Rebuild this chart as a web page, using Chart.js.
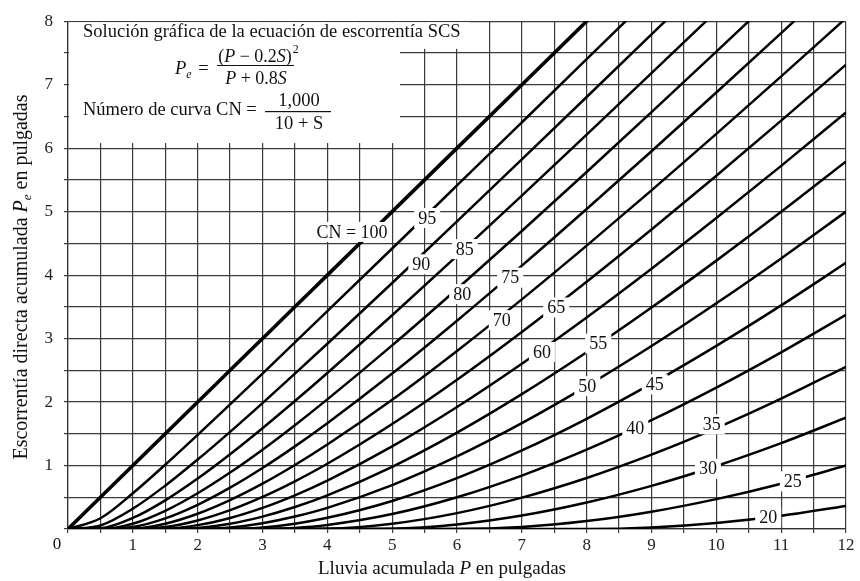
<!DOCTYPE html>
<html>
<head>
<meta charset="utf-8">
<script src="https://cdn.jsdelivr.net/npm/chart.js@4"></script>
<style>
  body { margin: 0; background: #fff; }
  #wrap { width: 860px; height: 581px; }
</style>
</head>
<body>
<div id="wrap"><canvas id="scsChart"></canvas></div>
<script>
// lluvia acumulada P (pulgadas)
const rainP = [0, 0.5, 1, 1.5, 2, 2.5, 3, 3.5, 4, 5, 6, 7, 8, 9, 10, 11, 12];

const cn100 = [0, 0.5, 1, 1.5, 2, 2.5, 3, 3.5, 4, 5, 6, 7, 8, 9, 10, 11, 12];
const cn95 = [0, 0.169, 0.563, 1.013, 1.483, 1.963, 2.449, 2.939, 3.431, 4.419, 5.412, 6.406, 7.401, 8.398, 9.395, 10.39, 11.39];
const cn90 = [0, 0.056, 0.32, 0.683, 1.094, 1.531, 1.984, 2.448, 2.919, 3.876, 4.846, 5.823, 6.806, 7.792, 8.78, 9.771, 10.763];
const cn85 = [0, 0.011, 0.174, 0.452, 0.795, 1.178, 1.588, 2.016, 2.458, 3.368, 4.303, 5.253, 6.213, 7.181, 8.155, 9.133, 10.114];
const cn80 = [0, 0, 0.083, 0.286, 0.563, 0.889, 1.25, 1.636, 2.042, 2.893, 3.781, 4.694, 5.625, 6.568, 7.521, 8.481, 9.446];
const cn75 = [0, 0, 0.03, 0.167, 0.381, 0.651, 0.961, 1.302, 1.667, 2.449, 3.282, 4.149, 5.042, 5.952, 6.877, 7.813, 8.758];
const cn70 = [0, 0, 0.005, 0.084, 0.241, 0.455, 0.714, 1.008, 1.33, 2.036, 2.805, 3.618, 4.464, 5.335, 6.225, 7.13, 8.048];
const cn65 = [0, 0, 0, 0.031, 0.135, 0.297, 0.506, 0.752, 1.028, 1.654, 2.351, 3.103, 3.894, 4.717, 5.565, 6.433, 7.316];
const cn60 = [0, 0, 0, 0.004, 0.061, 0.174, 0.333, 0.531, 0.762, 1.301, 1.922, 2.604, 3.333, 4.101, 4.899, 5.721, 6.564];
const cn55 = [0, 0, 0, 0, 0.015, 0.082, 0.195, 0.346, 0.53, 0.98, 1.518, 2.124, 2.784, 3.488, 4.228, 4.997, 5.791];
const cn50 = [0, 0, 0, 0, 0, 0.024, 0.091, 0.196, 0.333, 0.692, 1.143, 1.667, 2.25, 2.882, 3.556, 4.263, 5.0];
const cn45 = [0, 0, 0, 0, 0, 0, 0.024, 0.084, 0.176, 0.442, 0.801, 1.237, 1.736, 2.289, 2.886, 3.523, 4.193];
const cn40 = [0, 0, 0, 0, 0, 0, 0, 0.016, 0.063, 0.235, 0.5, 0.842, 1.25, 1.714, 2.227, 2.783, 3.375];
const cn35 = [0, 0, 0, 0, 0, 0, 0, 0, 0.004, 0.083, 0.25, 0.494, 0.804, 1.171, 1.589, 2.053, 2.556];
const cn30 = [0, 0, 0, 0, 0, 0, 0, 0, 0, 0.005, 0.072, 0.212, 0.417, 0.679, 0.992, 1.352, 1.754];
const cn25 = [0, 0, 0, 0, 0, 0, 0, 0, 0, 0, 0, 0.032, 0.125, 0.273, 0.471, 0.714, 1.0];
const cn20 = [0, 0, 0, 0, 0, 0, 0, 0, 0, 0, 0, 0, 0, 0.024, 0.095, 0.209, 0.364];

const curveNumbers = [100, 95, 90, 85, 80, 75, 70, 65, 60, 55, 50, 45, 40, 35, 30, 25, 20];
const curveValues = [cn100, cn95, cn90, cn85, cn80, cn75, cn70, cn65, cn60, cn55, cn50, cn45, cn40, cn35, cn30, cn25, cn20];

// etiquetas de las curvas (en unidades de los ejes)
const labelText = ['CN = 100', '95', '90', '85', '80', '75', '70', '65', '60', '55', '50', '45', '40', '35', '30', '25', '20'];
const labelP = [4.38, 5.54, 5.45, 6.12, 6.08, 6.82, 6.69, 7.53, 7.31, 8.18, 8.01, 9.05, 8.75, 9.93, 9.87, 11.18, 10.8];
const labelPe = [4.68, 4.9, 4.17, 4.41, 3.7, 3.96, 3.29, 3.49, 2.79, 2.92, 2.25, 2.28, 1.58, 1.65, 0.95, 0.75, 0.19];

const serif = '"Liberation Serif", "Times New Roman", serif';

const datasets = curveNumbers.map((cn, i) => ({
    label: 'CN ' + cn,
    data: rainP.map((p, j) => ({ x: p, y: curveValues[i][j] })),
    borderColor: '#000',
    borderWidth: cn === 100 ? 3.6 : 2.5,
    pointRadius: 0,
    cubicInterpolationMode: 'monotone',
    fill: false
}));

function drawRuns(ctx, parts, x, y) {
    let cx = x;
    parts.forEach(p => {
        ctx.font = p.f;
        ctx.fillText(p.t, cx, y + (p.dy || 0));
        cx += ctx.measureText(p.t).width;
    });
    return cx;
}
function runsWidth(ctx, parts) {
    let w = 0;
    parts.forEach(p => { ctx.font = p.f; w += ctx.measureText(p.t).width; });
    return w;
}

const fT = '18.5px ' + serif, iT = 'italic 18.5px ' + serif;
const fF = '18px ' + serif, iF = 'italic 18px ' + serif;
const fSub = 'italic 12px ' + serif, fSup = '12px ' + serif;

const extras = {
    id: 'extras',
    beforeDatasetsDraw(chart) {
        const { ctx, scales: { x, y } } = chart;
        ctx.save();
        ctx.fillStyle = '#fff';
        // recuadro del título
        ctx.fillRect(x.getPixelForValue(0) + 1, y.getPixelForValue(8) + 1,
            x.getPixelForValue(6.2) - x.getPixelForValue(0) - 1, y.getPixelForValue(7.58) - y.getPixelForValue(8));
        ctx.fillRect(x.getPixelForValue(0) + 1, y.getPixelForValue(7.6),
            x.getPixelForValue(5.12) - x.getPixelForValue(0) - 1, y.getPixelForValue(6.08) - y.getPixelForValue(7.6));
        ctx.restore();
    },
    afterDatasetsDraw(chart) {
        const { ctx, scales: { x, y } } = chart;
        ctx.save();
        ctx.fillStyle = '#111';

        // etiquetas CN
        ctx.font = '18px ' + serif;
        labelText.forEach((t, i) => {
            const px = x.getPixelForValue(labelP[i]);
            const py = y.getPixelForValue(labelPe[i]);
            const w = ctx.measureText(t).width;
            ctx.fillStyle = '#fff';
            ctx.fillRect(px - w / 2 - 4, py - 10, w + 8, 20);
            ctx.fillStyle = '#111';
            ctx.textAlign = 'center';
            ctx.textBaseline = 'middle';
            ctx.fillText(t, px, py + 1);
        });

        // título y fórmulas
        ctx.textAlign = 'left';
        ctx.textBaseline = 'alphabetic';
        ctx.font = fT;
        ctx.fillText('Solución gráfica de la ecuación de escorrentía SCS', 83, 37);

        let cx = drawRuns(ctx, [{ t: 'P', f: iT }, { t: 'e', f: fSub, dy: 4 }], 175, 74);
        drawRuns(ctx, [{ t: ' =', f: fT }], cx + 2, 74);
        const num = [{ t: '(', f: fF }, { t: 'P', f: iF }, { t: ' − 0.2', f: fF }, { t: 'S', f: iF }, { t: ')', f: fF }];
        const den = [{ t: 'P', f: iF }, { t: ' + 0.8', f: fF }, { t: 'S', f: iF }];
        const nw = runsWidth(ctx, num), dw = runsWidth(ctx, den);
        cx = drawRuns(ctx, num, 255 - nw / 2, 62);
        drawRuns(ctx, [{ t: '2', f: fSup }], cx + 1, 53);
        ctx.fillRect(217, 65, 77, 1);
        drawRuns(ctx, den, 256 - dw / 2, 84);

        ctx.font = fT;
        ctx.fillText('Número de curva CN =', 83, 115);
        ctx.textAlign = 'center';
        ctx.fillText('1,000', 299, 106);
        ctx.fillText('10 + S', 299, 129);
        ctx.fillRect(265, 111, 66, 1.2);

        // cero de la esquina
        ctx.font = '17px ' + serif;
        ctx.textBaseline = 'middle';
        ctx.fillText('0', x.left - 11, y.bottom + 16);

        // títulos de los ejes
        ctx.textAlign = 'left';
        ctx.textBaseline = 'alphabetic';
        const fx = '19px ' + serif, ix = 'italic 19px ' + serif;
        const xt = [{ t: 'Lluvia acumulada ', f: fx }, { t: 'P', f: ix }, { t: ' en pulgadas', f: fx }];
        drawRuns(ctx, xt, 442 - runsWidth(ctx, xt) / 2, 574);

        const fy = '20px ' + serif, iy = 'italic 20px ' + serif;
        const yt = [{ t: 'Escorrentía directa acumulada ', f: fy }, { t: 'P', f: iy },
            { t: 'e', f: 'italic 13px ' + serif, dy: 4 }, { t: ' en pulgadas', f: fy }];
        ctx.translate(27, 277);
        ctx.rotate(-Math.PI / 2);
        drawRuns(ctx, yt, -runsWidth(ctx, yt) / 2, 0);
        ctx.restore();
    }
};

const ctx = document.getElementById('scsChart');

new Chart(ctx, {
    type: 'line',
    data: { datasets: datasets },
    options: {
        responsive: true,
        maintainAspectRatio: false,
        animation: false,
        layout: { padding: { top: 16, right: 14, left: 0, bottom: 0 } },
        plugins: {
            legend: { display: false },
            tooltip: { enabled: false }
        },
        scales: {
            x: {
                type: 'linear',
                min: 0,
                max: 12,
                afterFit: s => { s.height = 52; },
                ticks: {
                    stepSize: 0.5,
                    autoSkip: false,
                    maxRotation: 0,
                    padding: 2,
                    color: '#222',
                    font: { family: serif, size: 17 },
                    callback: v => (v % 1 === 0 && v !== 0) ? v : ''
                },
                grid: { color: '#3a3a3a', lineWidth: 1.2, tickLength: 4 },
                border: { color: '#333', width: 1.2 }
            },
            y: {
                type: 'linear',
                min: 0,
                max: 8,
                afterFit: s => { s.width = 68; },
                ticks: {
                    stepSize: 0.5,
                    autoSkip: false,
                    padding: 11,
                    color: '#222',
                    font: { family: serif, size: 17 },
                    callback: v => (v % 1 === 0 && v !== 0) ? v : ''
                },
                grid: { color: '#3a3a3a', lineWidth: 1.2, tickLength: 4 },
                border: { color: '#333', width: 1.2 }
            }
        }
    },
    plugins: [extras]
});
</script>
</body>
</html>
